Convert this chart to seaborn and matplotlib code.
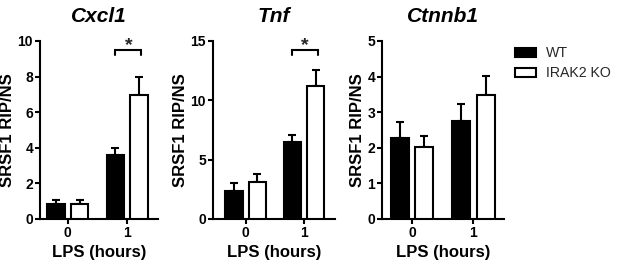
import numpy as np
import pandas as pd
import matplotlib
matplotlib.use("Agg")
import matplotlib.pyplot as plt
from matplotlib.patches import Patch
import seaborn as sns

# ---- data ----
genes = ["Cxcl1", "Tnf", "Ctnnb1"]
time_points = ["0", "1"]
groups = ["WT", "IRAK2 KO"]

wt_cxcl1 = [0.87, 3.62]
wt_cxcl1_err = [0.2, 0.36]
ko_cxcl1 = [0.87, 6.95]
ko_cxcl1_err = [0.2, 1.0]

wt_tnf = [2.4, 6.45]
wt_tnf_err = [0.62, 0.65]
ko_tnf = [3.1, 11.2]
ko_tnf_err = [0.68, 1.35]

wt_ctnnb1 = [2.28, 2.75]
wt_ctnnb1_err = [0.45, 0.48]
ko_ctnnb1 = [2.03, 3.48]
ko_ctnnb1_err = [0.3, 0.54]

y_max = [10, 15, 5]
y_ticks = [[0, 2, 4, 6, 8, 10], [0, 5, 10, 15], [0, 1, 2, 3, 4, 5]]
significant = [True, True, False]
sig_label = "*"

panel_data = [
    (wt_cxcl1, wt_cxcl1_err, ko_cxcl1, ko_cxcl1_err),
    (wt_tnf, wt_tnf_err, ko_tnf, ko_tnf_err),
    (wt_ctnnb1, wt_ctnnb1_err, ko_ctnnb1, ko_ctnnb1_err),
]

# ---- style ----
sns.set_theme(style="ticks")
plt.rcParams["font.family"] = ["Liberation Sans", "DejaVu Sans"]

W, H = 617, 267
fig = plt.figure(figsize=(W / 100, H / 100), dpi=100)

# axes pixel geometry (left, right) and xlims
ax_px = [(40, 158), (213, 335), (382, 504)]
xlims = [(-0.47, 1.52), (-0.56, 1.53), (-0.49, 1.50)]
top_px, bot_px = 41, 219

for i, gene in enumerate(genes):
    l, r = ax_px[i]
    ax = fig.add_axes([l / W, (H - bot_px) / H, (r - l) / W, (bot_px - top_px) / H])
    wt, wt_e, ko, ko_e = panel_data[i]
    df = pd.DataFrame({
        "time": time_points * 2,
        "genotype": [groups[0]] * 2 + [groups[1]] * 2,
        "value": list(wt) + list(ko),
        "err": list(wt_e) + list(ko_e),
    })
    sns.barplot(data=df, x="time", y="value", hue="genotype", hue_order=groups,
                palette=["black", "white"], edgecolor="black", linewidth=1.5,
                width=0.8, gap=0.27, errorbar=None, legend=False, ax=ax, zorder=3)
    for cont, g in zip(ax.containers, groups):
        sub = df[df["genotype"] == g]
        xs = [p.get_x() + p.get_width() / 2 for p in cont]
        hs = [p.get_height() for p in cont]
        errs = sub["err"].to_numpy()
        ax.errorbar(xs, hs, yerr=[np.zeros_like(errs), errs], fmt="none",
                    ecolor="black", elinewidth=1.5, capsize=2.6, capthick=1.5,
                    zorder=2)
    ax.set_xlim(*xlims[i])
    ax.set_ylim(0, y_max[i])
    ax.set_yticks(y_ticks[i])
    ax.set_yticklabels([str(t) for t in y_ticks[i]])
    sns.despine(ax=ax)
    for s in ["left", "bottom"]:
        ax.spines[s].set_linewidth(1.5)
        ax.spines[s].set_color("black")
    ax.tick_params(axis="both", direction="out", length=3.5, width=1.5,
                   color="black", labelsize=10, pad=1.5, labelcolor="black")
    for lab in ax.get_xticklabels() + ax.get_yticklabels():
        lab.set_fontweight("bold")
    ax.set_ylabel("SRSF1 RIP/NS", fontsize=12, fontweight="bold", labelpad=1.5,
                  color="black")
    ax.set_xlabel("LPS (hours)", fontsize=12, fontweight="bold", labelpad=4,
                  color="black")
    ax.set_title(gene, fontsize=15, fontweight="bold", fontstyle="italic", pad=14,
                 color="black")

    if significant[i]:
        x0 = ax.containers[0][1].get_x() + ax.containers[0][1].get_width() / 2
        x1 = ax.containers[1][1].get_x() + ax.containers[1][1].get_width() / 2 + 0.04
        yb = y_max[i] * 0.95
        yt = y_max[i] * 0.92
        ax.plot([x0, x0, x1, x1], [yt, yb, yb, yt], color="black", lw=1.5,
                clip_on=False, solid_joinstyle="miter")
        ax.text((x0 + x1) / 2, yb - y_max[i] * 0.025, sig_label, ha="center",
                va="bottom", fontsize=14, fontweight="bold", clip_on=False)

handles = [Patch(facecolor="black", edgecolor="black", linewidth=1.5),
           Patch(facecolor="white", edgecolor="black", linewidth=1.5)]
fig.legend(handles=handles, labels=groups, loc="upper left",
           bbox_to_anchor=(508 / W, 1 - 39 / H), frameon=False, fontsize=10.2,
           borderpad=0, handlelength=1.5, handleheight=0.6, handletextpad=0.7,
           labelspacing=0.42)

fig.savefig("out.png", dpi=100, facecolor="white")
